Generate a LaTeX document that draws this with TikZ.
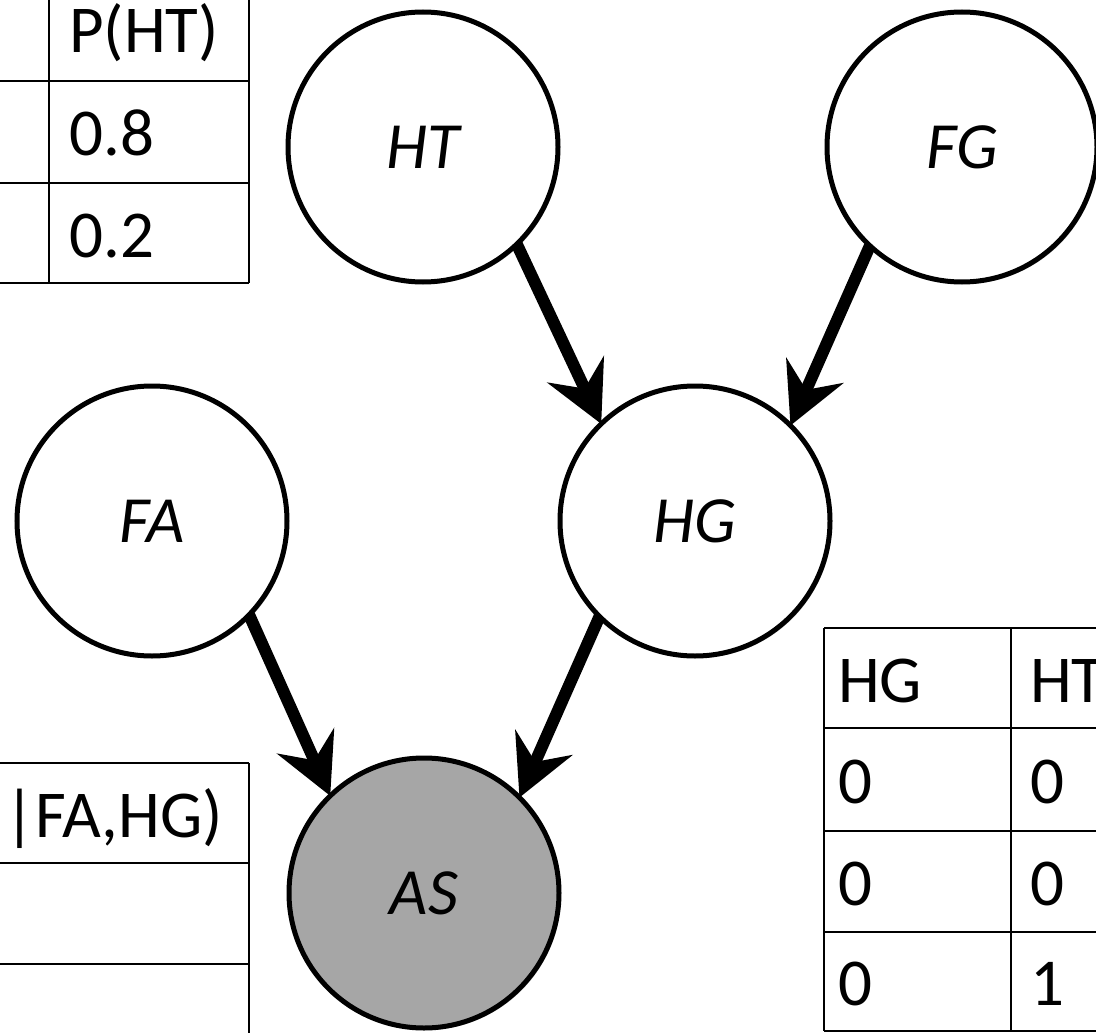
\documentclass[tikz,border=0pt]{standalone}
\usepackage{fontspec}
\setmainfont{Carlito}
\usetikzlibrary{arrows.meta,shadows}
\definecolor{obsgray}{HTML}{A6A6A6}
\begin{document}
\begin{tikzpicture}[x=1pt,y=-1pt,
  var/.style={circle, draw=black, line width=5pt, fill=white,
    minimum size=270pt, inner sep=0pt, outer sep=0pt,
    font=\fontsize{66}{72}\selectfont\itshape,
    drop shadow={shadow xshift=2pt, shadow yshift=-2pt, fill=black, opacity=0.25}},
  observed/.style={var, fill=obsgray},
  edge/.style={line width=12pt, -{Stealth[length=60pt,width=62pt,inset=21pt]}},
  grid/.style={line width=2.2pt},
  cell/.style={font=\fontsize{67}{72}\selectfont, inner sep=0pt, anchor=base west},
  rcell/.style={cell, anchor=base east}]
\useasboundingbox (0,0) rectangle (1096,1033);
\clip (0,0) rectangle (1096,1033);

% prior table for HT (top left)
\draw[grid] (49,-30) -- (49,283);
\draw[grid] (249,-30) -- (249,283);
\draw[grid] (-30,81) -- (249,81);
\draw[grid] (-30,183) -- (249,183);
\draw[grid] (-30,283) -- (249,283);
\node[cell] (pht) at (69,53) {P(HT)};
\node[cell] (pht1) at (69,155) {0.8};
\node[cell] (pht2) at (69,257) {0.2};

% conditional table for AS (bottom left)
\draw[grid] (249,763) -- (249,1060);
\draw[grid] (-30,763) -- (249,763);
\draw[grid] (-30,863) -- (249,863);
\draw[grid] (-30,964) -- (249,964);
\node[rcell] (pas) at (223,837) {|FA,HG)};

% conditional table for HG (bottom right)
\draw[grid] (824,628) -- (824,1031);
\draw[grid] (1011,628) -- (1011,1031);
\foreach \yy in {628,728,831,932,1031}
  \draw[grid] (824,\yy) -- (1130,\yy);
\node[cell] (hgh) at (838,702) {HG};
\node[cell] (hth) at (1030,702) {HT};
\node[cell] (hg1) at (838,803) {0};
\node[cell] (ht1) at (1030,803) {0};
\node[cell] (hg2) at (838,905) {0};
\node[cell] (ht2) at (1030,905) {0};
\node[cell] (hg3) at (838,1005) {0};
\node[cell] (ht3) at (1030,1005) {1};

% network variables
\node[var] (HT) at (423,147) {HT};
\node[var] (FG) at (962,147) {FG};
\node[var] (FA) at (152,521) {FA};
\node[var] (HG) at (695,521) {HG};
\node[observed] (AS) at (424,893) {AS};

% dependencies
\draw[edge] (HT.-46) -- (HG.134);
\draw[edge] (FG.-133) -- (HG.45);
\draw[edge] (FA.-44) -- (AS.134);
\draw[edge] (HG.-135) -- (AS.45);
\end{tikzpicture}
\end{document}
